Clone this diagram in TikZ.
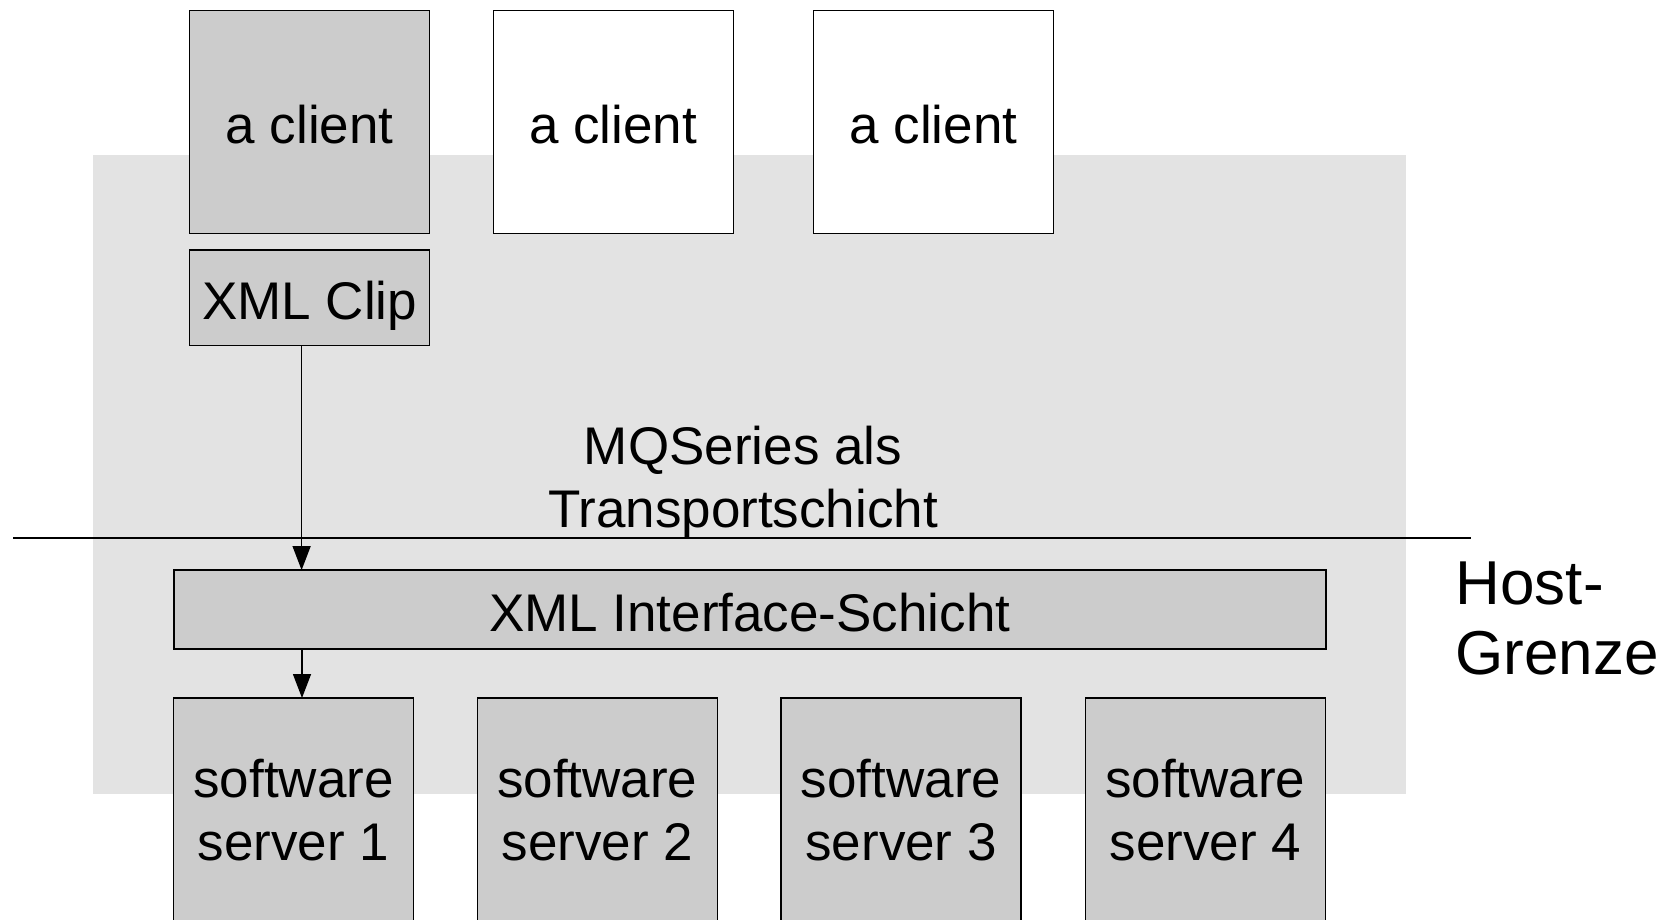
\documentclass[tikz,border=0pt]{standalone}
\usepackage{fontspec}
\setmainfont{Liberation Sans}
\usetikzlibrary{arrows.meta}

\definecolor{boxgray}{RGB}{204,204,204}
\definecolor{layergray}{RGB}{227,227,227}

\tikzset{
  box/.style={draw, line width=1.6pt, fill=boxgray, inner sep=0pt, outer sep=0pt,
    minimum width=240pt, align=center, font=\fontsize{53}{63}\selectfont},
  oneline/.style={text height=44pt, text depth=0pt},
  flow/.style={line width=1.4pt, -{Triangle[length=24pt,width=18pt]}}
}

\begin{document}
\begin{tikzpicture}[x=1pt, y=-1pt]
\useasboundingbox (0,0) rectangle (1671,920);

\fill[layergray] (93,155) rectangle (1406,794);

\coordinate (hostL) at (13,538);
\coordinate (hostR) at (1471,538);
\draw[line width=1.6pt] (hostL) -- (hostR);

\node[box, oneline, minimum height=223pt] (client1) at (309.6,122) {a client};
\node[box, oneline, minimum height=223pt, fill=white] (client2) at (613.3,122) {a client};
\node[box, oneline, minimum height=223pt, fill=white] (client3) at (933.5,122) {a client};

\node[box, oneline, minimum height=95pt] (clip) at (309.6,297.8) {XML Clip};

\node[align=center, font=\fontsize{53}{63}\selectfont] (mq) at (743,482)
    {MQSeries als\\Transportschicht};

\node[box, oneline, minimum width=1152pt, minimum height=79pt] (iface) at (749.7,609.6)
    {XML Interface-Schicht};

\node[box, minimum height=224pt] (srv1) at (293.6,810) {software\\server 1};
\node[box, minimum height=224pt] (srv2) at (597.3,810) {software\\server 2};
\node[box, minimum height=224pt] (srv3) at (901.1,810) {software\\server 3};
\node[box, minimum height=224pt] (srv4) at (1205.3,810) {software\\server 4};

\node[align=left, anchor=west, font=\fontsize{62}{70}\selectfont] (host) at (1452,618)
    {Host-\\Grenze};

\draw[flow] ([xshift=-8pt]clip.south) -- ([xshift=-8pt]clip.south |- iface.north);
\draw[flow] ([xshift=8.4pt]srv1.north |- iface.south) -- ([xshift=8.4pt]srv1.north);

\end{tikzpicture}
\end{document}
